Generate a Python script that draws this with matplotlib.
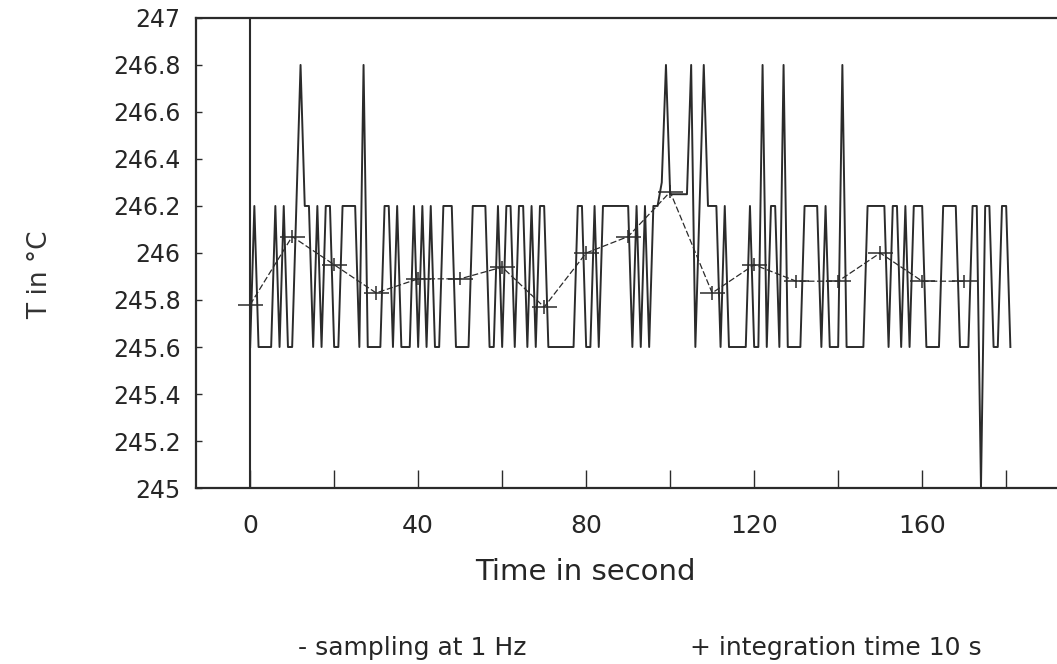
import numpy as np
import matplotlib.pyplot as plt

plt.rcParams['font.family'] = ['DejaVu Sans']

# 1 Hz samples, T in degC (t = 0 .. 181 s)
T_1hz = [
    245.6, 246.2, 245.6, 245.6, 245.6, 245.6, 246.2, 245.6, 246.2, 245.6,   # 0
    245.6, 246.2, 246.8, 246.2, 246.2, 245.6, 246.2, 245.6, 246.2, 246.2,   # 10
    245.6, 245.6, 246.2, 246.2, 246.2, 246.2, 245.6, 246.8, 245.6, 245.6,   # 20
    245.6, 245.6, 246.2, 246.2, 245.6, 246.2, 245.6, 245.6, 245.6, 246.2,   # 30
    245.6, 246.2, 245.6, 246.2, 245.6, 245.6, 246.2, 246.2, 246.2, 245.6,   # 40
    245.6, 245.6, 245.6, 246.2, 246.2, 246.2, 246.2, 245.6, 245.6, 246.2,   # 50
    245.6, 246.2, 246.2, 245.6, 246.2, 246.2, 245.6, 246.2, 245.6, 246.2,   # 60
    246.2, 245.6, 245.6, 245.6, 245.6, 245.6, 245.6, 245.6, 246.2, 246.2,   # 70
    245.6, 245.6, 246.2, 245.6, 246.2, 246.2, 246.2, 246.2, 246.2, 246.2,   # 80
    246.2, 245.6, 246.2, 245.6, 246.2, 245.6, 246.2, 246.2, 246.3, 246.8,   # 90
    246.25, 246.25, 246.25, 246.25, 246.25, 246.8, 245.6, 246.2, 246.8, 246.2,  # 100
    246.2, 246.2, 245.6, 246.2, 245.6, 245.6, 245.6, 245.6, 245.6, 246.2,   # 110
    245.6, 245.6, 246.8, 245.6, 246.2, 246.2, 245.6, 246.8, 245.6, 245.6,   # 120
    245.6, 245.6, 246.2, 246.2, 246.2, 246.2, 245.6, 246.2, 245.6, 245.6,   # 130
    245.6, 246.8, 245.6, 245.6, 245.6, 245.6, 245.6, 246.2, 246.2, 246.2,   # 140
    246.2, 246.2, 245.6, 246.2, 246.2, 245.6, 246.2, 245.6, 246.2, 246.2,   # 150
    246.2, 245.6, 245.6, 245.6, 245.6, 246.2, 246.2, 246.2, 246.2, 245.6,   # 160
    245.6, 245.6, 246.2, 246.2, 245.0, 246.2, 246.2, 245.6, 245.6, 246.2,   # 170
    246.2, 245.6,                                                           # 180
]
t_1hz = np.arange(len(T_1hz))

# 10 s integration, one value every 10 s
t_int = [0, 10, 20, 30, 40, 50, 60, 70, 80, 90, 100, 110, 120, 130, 140, 150, 160, 170]
T_int = [245.78, 246.07, 245.95, 245.83, 245.89, 245.89, 245.94, 245.77, 246.00,
         246.07, 246.26, 245.83, 245.95, 245.88, 245.88, 246.00, 245.88, 245.88]

x_major = [0, 40, 80, 120, 160]
x_minor = [20, 60, 100, 140, 180]
y_ticks = [245, 245.2, 245.4, 245.6, 245.8, 246, 246.2, 246.4, 246.6, 246.8, 247]
y_labels = ['245', '245.2', '245.4', '245.6', '245.8', '246',
            '246.2', '246.4', '246.6', '246.8', '247']

ink = '#2b2b2b'
txt = '#262626'

fig = plt.figure(figsize=(10.57, 6.64), dpi=100)
ax = fig.add_axes([0.1854, 0.265, 0.8146, 0.708])

ax.plot(t_1hz, T_1hz, color=ink, lw=1.4)
ax.errorbar(t_int, T_int, xerr=3, yerr=0.028, color=ink, lw=0.9,
            elinewidth=1.1, capsize=0, dashes=(5, 2))
ax.axvline(0, color=ink, lw=1.5)

ax.set_xlim(-12.9, 192.1)
ax.set_ylim(245, 247)
ax.set_xticks(x_major)
ax.set_xticks(x_minor, minor=True)
ax.set_yticks(y_ticks)
ax.set_yticklabels(y_labels)

for side in ['left', 'top', 'bottom']:
    ax.spines[side].set_linewidth(1.6)
    ax.spines[side].set_color(ink)
ax.spines['right'].set_visible(False)

ax.tick_params(axis='x', which='both', direction='in', length=13, width=1,
               color=ink, pad=19, labelsize=18, labelcolor=txt)
ax.tick_params(axis='y', direction='in', length=4, width=1, color=ink,
               pad=11, labelsize=17, labelcolor=txt)

fig.text(40 / 1057, 1 - 275 / 664, 'T in °C', rotation=90, fontsize=19,
         ha='center', va='center', color='#333333')
fig.text(585 / 1057, 1 - 572 / 664, 'Time in second', fontsize=21,
         ha='center', va='center', color=txt)
fig.text(298 / 1057, 1 - 648 / 664, '- sampling at 1 Hz', fontsize=18,
         ha='left', va='center', color=txt)
fig.text(690 / 1057, 1 - 648 / 664, '+ integration time 10 s', fontsize=18,
         ha='left', va='center', color=txt)

fig.savefig('out.png', dpi=100)
